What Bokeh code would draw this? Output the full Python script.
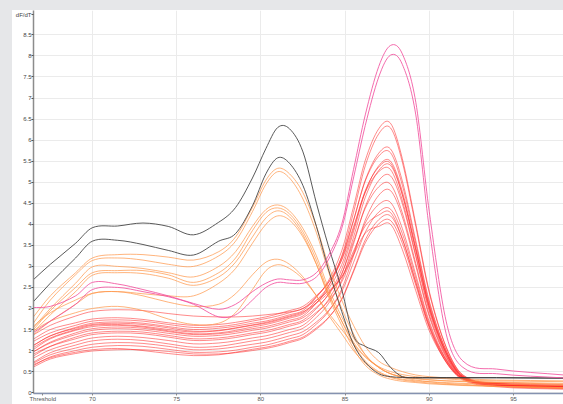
from bokeh.plotting import figure
from bokeh.models import Range1d, FixedTicker, CustomJSTickFormatter, Spacer
from bokeh.layouts import row, column
from bokeh.embed import file_html
from bokeh.resources import INLINE

# ---------------- data ----------------
TEMPS = [66.4, 67.5, 69, 70, 71.5, 73, 74.5, 76, 77.5, 78.5, 79.5, 80.3, 81, 81.7, 82.5,
         83.3, 84, 84.8, 85.5, 86.2, 87, 87.7, 88.4, 89.2, 90, 91, 92, 94, 98]

X_GRID_TICKS = [70, 75, 80, 85, 90, 95]
X_AXIS_TICKS = [67.05, 70, 75, 80, 85, 90, 95]
X_AXIS_LABELS = ["Threshold", "70", "75", "80", "85", "90", "95"]
Y_GRID_TICKS = [0, 0.5, 1, 1.5, 2, 2.5, 3, 3.5, 4, 4.5, 5, 5.5, 6, 6.5, 7, 7.5, 8, 8.5]
Y_AXIS_TICKS = [0, 0.5, 1, 1.5, 2, 2.5, 3, 3.5, 4, 4.5, 5, 5.5, 6, 6.5, 7, 7.5, 8, 8.5, 8.98]
Y_AXIS_LABELS = ["0", "0.5", "1", "1.5", "2", "2.5", "3", "3.5", "4", "4.5", "5", "5.5",
                 "6", "6.5", "7", "7.5", "8", "8.5", "dF/dT"]

black_1 = [2.65, 3.05, 3.55, 3.92, 3.96, 4.03, 3.95, 3.75, 4.05, 4.4, 5.1, 5.8, 6.3, 6.27, 5.72,
           4.5, 3.5, 2.45, 1.35, 1.1, 0.95, 0.6, 0.38, 0.36, 0.36, 0.36, 0.36, 0.36, 0.35]
black_2 = [2.12, 2.6, 3.2, 3.6, 3.62, 3.52, 3.38, 3.27, 3.6, 3.78, 4.44, 5.2, 5.58, 5.45, 4.92,
           3.95, 2.95, 1.93, 1.15, 0.72, 0.45, 0.38, 0.36, 0.35, 0.35, 0.35, 0.35, 0.35, 0.34]

orange_1 = [1.75, 2.3, 2.85, 3.2, 3.28, 3.28, 3.22, 3.15, 3.35, 3.7, 4.4, 5.05, 5.33, 5.2, 4.75,
            3.95, 3.05, 2.2, 1.6, 1.1, 0.75, 0.6, 0.5, 0.42, 0.38, 0.35, 0.33, 0.3, 0.28]
orange_2 = [1.6, 2.2, 2.8, 3.14, 3.2, 3.15, 3.05, 3.0, 3.25, 3.6, 4.3, 4.95, 5.25, 5.1, 4.6,
            3.8, 2.9, 2.0, 1.4, 0.9, 0.6, 0.45, 0.38, 0.34, 0.31, 0.28, 0.27, 0.25, 0.22]
orange_3 = [1.5, 2.0, 2.6, 2.99, 3.0, 2.95, 2.85, 2.75, 3.0, 3.35, 3.95, 4.35, 4.46, 4.32, 3.9,
            3.25, 2.5, 1.8, 1.3, 0.9, 0.6, 0.45, 0.38, 0.33, 0.3, 0.28, 0.26, 0.24, 0.2]
orange_4 = [1.45, 1.95, 2.5, 2.85, 2.9, 2.9, 2.8, 2.62, 2.85, 3.2, 3.85, 4.28, 4.39, 4.25, 3.82,
            3.15, 2.4, 1.7, 1.15, 0.75, 0.5, 0.38, 0.32, 0.28, 0.26, 0.24, 0.22, 0.2, 0.17]
orange_5 = [1.4, 1.85, 2.4, 2.79, 2.85, 2.83, 2.72, 2.55, 2.75, 3.1, 3.7, 4.15, 4.32, 4.18, 3.75,
            3.05, 2.3, 1.6, 1.05, 0.65, 0.42, 0.32, 0.27, 0.24, 0.21, 0.19, 0.17, 0.15, 0.12]
orange_6 = [1.35, 1.7, 2.1, 2.36, 2.4, 2.35, 2.3, 2.3, 2.6, 2.95, 3.55, 4.0, 4.2, 4.1, 3.7,
            3.05, 2.35, 1.7, 1.2, 0.85, 0.62, 0.5, 0.43, 0.38, 0.35, 0.33, 0.3, 0.28, 0.26]
orange_7 = [1.55, 1.9, 2.2, 2.36, 2.4, 2.3, 2.15, 2.05, 2.1, 2.35, 2.8, 3.1, 3.17, 3.05, 2.75,
            2.3, 1.85, 1.4, 1.0, 0.7, 0.48, 0.36, 0.3, 0.26, 0.23, 0.2, 0.18, 0.15, 0.12]
orange_8 = [1.45, 1.7, 1.9, 2.0, 2.05, 1.95, 1.75, 1.62, 1.65, 1.9, 2.45, 2.9, 3.04, 2.95, 2.7,
            2.3, 1.9, 1.5, 1.15, 0.85, 0.6, 0.45, 0.36, 0.3, 0.26, 0.22, 0.2, 0.15, 0.1]

magenta_1 = [2.02, 2.05, 2.3, 2.62, 2.58, 2.45, 2.3, 2.12, 1.98, 2.1, 2.4, 2.6, 2.7, 2.68, 2.68,
             2.85, 3.25, 4.0, 5.3, 6.6, 7.75, 8.25, 8.05, 6.9, 4.3, 1.7, 0.75, 0.56, 0.42]
magenta_2 = [1.4, 1.7, 2.1, 2.45, 2.5, 2.4, 2.28, 2.1, 1.8, 1.85, 2.2, 2.5, 2.62, 2.6, 2.6,
             2.75, 3.15, 3.9, 5.1, 6.35, 7.5, 8.02, 7.8, 6.6, 3.9, 1.4, 0.6, 0.45, 0.35]

red_1 = [1.10, 1.35, 1.55, 1.65, 1.68, 1.65, 1.57, 1.50, 1.53, 1.58, 1.65, 1.70, 1.77, 1.85, 1.95,
         2.27, 2.65, 3.37, 4.41, 5.52, 6.27, 6.40, 5.56, 4.01, 2.41, 1.09, 0.42, 0.22, 0.15]
red_2 = [0.95, 1.2, 1.42, 1.52, 1.56, 1.53, 1.45, 1.38, 1.40, 1.45, 1.52, 1.57, 1.64, 1.72, 1.82,
         2.13, 2.52, 3.24, 4.28, 5.39, 6.15, 6.29, 5.48, 3.95, 2.37, 1.08, 0.41, 0.21, 0.14]
red_3 = [1.05, 1.3, 1.5, 1.60, 1.62, 1.58, 1.50, 1.44, 1.47, 1.53, 1.60, 1.65, 1.72, 1.80, 1.90,
         2.19, 2.53, 3.17, 4.08, 5.05, 5.69, 5.79, 5.03, 3.61, 2.18, 1.01, 0.39, 0.2, 0.13]
red_4 = [1.35, 1.6, 1.82, 1.93, 1.97, 1.95, 1.88, 1.82, 1.80, 1.80, 1.82, 1.85, 1.88, 1.92, 2.0,
         2.28, 2.61, 3.22, 4.10, 5.03, 5.62, 5.70, 4.93, 3.54, 2.13, 1.00, 0.39, 0.21, 0.14]
red_5 = [0.85, 1.1, 1.32, 1.42, 1.46, 1.44, 1.36, 1.28, 1.30, 1.35, 1.42, 1.47, 1.54, 1.62, 1.72,
         2.00, 2.33, 2.93, 3.82, 4.77, 5.39, 5.50, 4.78, 3.44, 2.07, 0.96, 0.37, 0.18, 0.12]
red_6 = [1.0, 1.28, 1.48, 1.57, 1.60, 1.56, 1.47, 1.40, 1.42, 1.48, 1.56, 1.62, 1.69, 1.77, 1.87,
         2.14, 2.46, 3.04, 3.89, 4.80, 5.36, 5.45, 4.71, 3.39, 2.04, 0.95, 0.38, 0.2, 0.16]
red_7 = [0.8, 1.02, 1.2, 1.30, 1.34, 1.31, 1.24, 1.16, 1.18, 1.23, 1.30, 1.35, 1.42, 1.50, 1.60,
         1.88, 2.20, 2.81, 3.69, 4.64, 5.28, 5.40, 4.70, 3.39, 2.03, 0.93, 0.36, 0.17, 0.1]
red_8 = [1.25, 1.5, 1.66, 1.75, 1.78, 1.74, 1.66, 1.6, 1.62, 1.67, 1.74, 1.80, 1.87, 1.95, 2.05,
         2.31, 2.61, 3.15, 3.94, 4.76, 5.25, 5.30, 4.57, 3.27, 1.98, 0.94, 0.37, 0.23, 0.17]
red_9 = [0.7, 0.95, 1.13, 1.23, 1.27, 1.24, 1.16, 1.08, 1.10, 1.16, 1.23, 1.28, 1.35, 1.43, 1.53,
         1.79, 2.11, 2.68, 3.53, 4.42, 5.04, 5.15, 4.49, 3.23, 1.94, 0.89, 0.35, 0.19, 0.12]
red_10 = [0.95, 1.18, 1.38, 1.48, 1.52, 1.49, 1.41, 1.34, 1.36, 1.41, 1.48, 1.53, 1.60, 1.68, 1.78,
          2.03, 2.32, 2.83, 3.59, 4.38, 4.89, 4.95, 4.27, 3.07, 1.85, 0.87, 0.36, 0.2, 0.14]
red_11 = [0.62, 0.85, 1.0, 1.08, 1.12, 1.10, 1.03, 0.96, 0.97, 1.01, 1.08, 1.13, 1.20, 1.28, 1.38,
          1.63, 1.92, 2.46, 3.25, 4.10, 4.69, 4.80, 4.18, 3.01, 1.81, 0.84, 0.33, 0.16, 0.1]
red_12 = [0.9, 1.1, 1.28, 1.38, 1.42, 1.40, 1.32, 1.24, 1.26, 1.31, 1.38, 1.43, 1.50, 1.58, 1.68,
          1.91, 2.17, 2.63, 3.31, 4.03, 4.47, 4.52, 3.90, 2.80, 1.69, 0.80, 0.35, 0.2, 0.13]
red_13 = [0.68, 0.9, 1.06, 1.15, 1.19, 1.17, 1.10, 1.02, 1.04, 1.09, 1.15, 1.20, 1.27, 1.35, 1.45,
          1.68, 1.94, 2.40, 3.09, 3.81, 4.29, 4.36, 3.78, 2.72, 1.64, 0.77, 0.33, 0.17, 0.11]
red_14 = [1.1, 1.35, 1.53, 1.62, 1.65, 1.62, 1.54, 1.46, 1.48, 1.54, 1.61, 1.67, 1.74, 1.82, 1.92,
          2.13, 2.37, 2.75, 3.36, 3.96, 4.22, 4.28, 3.66, 2.61, 1.58, 0.78, 0.33, 0.22, 0.16]
red_15 = [0.59, 0.8, 0.93, 0.99, 1.02, 1.02, 0.98, 0.92, 0.92, 0.95, 1.0, 1.05, 1.11, 1.19, 1.29,
          1.51, 1.77, 2.23, 2.90, 3.63, 4.11, 4.20, 3.65, 2.63, 1.58, 0.73, 0.30, 0.14, 0.08]
red_16 = [0.65, 0.83, 0.96, 1.02, 1.05, 1.0, 0.93, 0.88, 0.9, 0.96, 1.03, 1.08, 1.14, 1.22, 1.32,
          1.54, 1.78, 2.21, 2.87, 3.56, 4.01, 4.09, 3.55, 2.55, 1.54, 0.72, 0.34, 0.18, 0.12]
red_17 = [1.2, 1.42, 1.6, 1.70, 1.73, 1.70, 1.62, 1.55, 1.57, 1.62, 1.70, 1.76, 1.82, 1.90, 2.0,
          2.20, 2.41, 2.74, 3.27, 3.79, 3.95, 4.00, 3.40, 2.42, 1.47, 0.74, 0.32, 0.24, 0.19]

RED_CURVES = [red_1, red_2, red_3, red_4, red_5, red_6, red_7, red_8, red_9, red_10,
              red_11, red_12, red_13, red_14, red_15, red_16, red_17]
ORANGE_CURVES = [orange_1, orange_2, orange_3, orange_4, orange_5, orange_6, orange_7, orange_8]
BLACK_CURVES = [black_1, black_2]
MAGENTA_CURVES = [magenta_1, magenta_2]


# ---------------- rendering helpers ----------------
def smooth_segments(xs, ys):
    """Cubic Hermite (Bezier) segments passing through every read point."""
    n = len(xs)
    slopes = []
    for i in range(n):
        if i == 0:
            m = (ys[1] - ys[0]) / (xs[1] - xs[0])
        elif i == n - 1:
            m = (ys[-1] - ys[-2]) / (xs[-1] - xs[-2])
        else:
            m = (ys[i + 1] - ys[i - 1]) / (xs[i + 1] - xs[i - 1])
        slopes.append(m)
    seg = dict(x0=[], y0=[], x1=[], y1=[], cx0=[], cy0=[], cx1=[], cy1=[])
    for i in range(n - 1):
        h = xs[i + 1] - xs[i]
        seg["x0"].append(xs[i]); seg["y0"].append(ys[i])
        seg["x1"].append(xs[i + 1]); seg["y1"].append(ys[i + 1])
        seg["cx0"].append(xs[i] + h / 3.0); seg["cy0"].append(ys[i] + slopes[i] * h / 3.0)
        seg["cx1"].append(xs[i + 1] - h / 3.0); seg["cy1"].append(ys[i + 1] - slopes[i + 1] * h / 3.0)
    return seg


LABEL_JS = ("const i = tick_values.indexOf(tick); "
            "return i >= 0 ? tick_labels[i] : tick.toString();")

FONT = "Liberation Sans"
BG = "#e6e7e9"

p = figure(width=551, height=394, x_range=Range1d(66.5, 97.97), y_range=Range1d(-0.02, 9.08),
           output_backend="svg", toolbar_location=None,
           min_border_left=0, min_border_right=0, min_border_top=0, min_border_bottom=0)
p.outline_line_color = None
p.background_fill_color = "white"
p.border_fill_color = "white"

p.xgrid.ticker = FixedTicker(ticks=X_GRID_TICKS)
p.ygrid.ticker = FixedTicker(ticks=Y_GRID_TICKS)
p.xgrid.grid_line_color = "#ebebeb"
p.ygrid.grid_line_color = "#ebebeb"

yax = p.yaxis[0]
yax.ticker = FixedTicker(ticks=Y_AXIS_TICKS)
yax.formatter = CustomJSTickFormatter(
    args=dict(tick_values=Y_AXIS_TICKS, tick_labels=Y_AXIS_LABELS), code=LABEL_JS)
yax.major_label_text_font = FONT
yax.major_label_text_font_size = "6px"
yax.major_label_text_color = "#444444"
yax.major_label_standoff = 0
yax.major_tick_out = 2
yax.major_tick_in = 0
yax.minor_tick_out = 0
yax.minor_tick_in = 0
yax.axis_line_color = "#8c8c8c"
yax.axis_line_width = 1.5
yax.major_tick_line_color = "#555555"

xax = p.xaxis[0]
xax.ticker = FixedTicker(ticks=X_AXIS_TICKS)
xax.formatter = CustomJSTickFormatter(
    args=dict(tick_values=X_AXIS_TICKS, tick_labels=X_AXIS_LABELS), code=LABEL_JS)
xax.major_label_text_font = FONT
xax.major_label_text_font_size = "6px"
xax.major_label_text_color = "#555555"
xax.major_label_standoff = 0
xax.major_tick_out = 2
xax.major_tick_in = 0
xax.minor_tick_out = 0
xax.minor_tick_in = 0
xax.axis_line_color = "#8592b0"
xax.axis_line_width = 1.5
xax.major_tick_line_color = "#888888"

for group, color, alpha in [(RED_CURVES, "#ff2a2a", 0.55), (ORANGE_CURVES, "#ff9446", 0.7),
                            (BLACK_CURVES, "#3c3c3c", 0.85), (MAGENTA_CURVES, "#f2529f", 0.85)]:
    for ys in group:
        s = smooth_segments(TEMPS, ys)
        p.bezier(x0=s["x0"], y0=s["y0"], x1=s["x1"], y1=s["y1"],
                 cx0=s["cx0"], cy0=s["cy0"], cx1=s["cx1"], cy1=s["cy1"],
                 line_color=color, line_alpha=alpha, line_width=1)

left = Spacer(width=12, height=404, styles={"background-color": BG})
top = Spacer(width=551, height=10, styles={"background-color": BG})
layout = row(left, column(top, p))

open("out.html", "w").write(file_html(layout, INLINE))
